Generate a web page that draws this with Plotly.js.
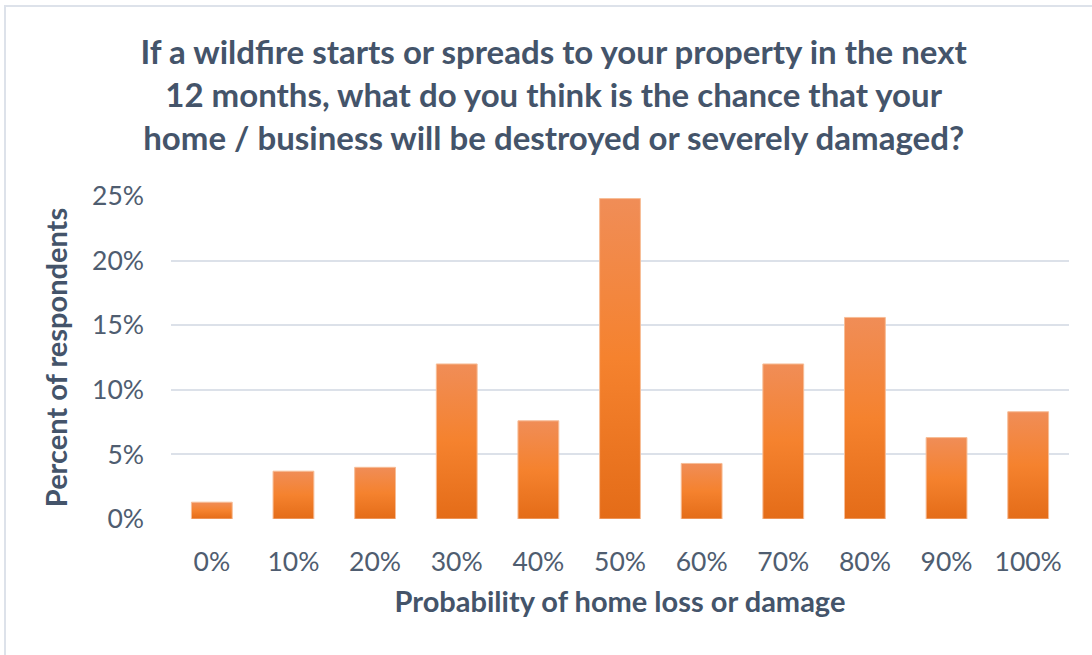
<!DOCTYPE html>
<html>
<head>
<meta charset="utf-8">
<script src="https://cdn.plot.ly/plotly-3.0.1.min.js"></script>
<style>
  html, body { margin: 0; padding: 0; background: #ffffff; }
  #wrap { position: relative; width: 1092px; height: 655px; overflow: hidden; }
  #chart { width: 1092px; height: 655px; }
  #frame { position: absolute; left: 4px; top: 5px; width: 1200px; height: 800px;
           border-left: 2px solid #DDE2EA; border-top: 2px solid #DDE2EA; pointer-events: none; }
</style>
</head>
<body>
<div id="wrap">
  <div id="chart"></div>
  <div id="frame"></div>
</div>
<script>
const categories = ["0%", "10%", "20%", "30%", "40%", "50%", "60%", "70%", "80%", "90%", "100%"];
const percentRespondents = [1.3, 3.7, 4.0, 12.0, 7.6, 24.8, 4.3, 12.0, 15.6, 6.3, 8.3];
const yTickValues = [0, 5, 10, 15, 20, 25];
const yTickLabels = ["0%", "5%", "10%", "15%", "20%", "25%"];

const titleText = "If a wildfire starts or spreads to your property in the next<br>12 months, what do you think is the chance that your<br>home / business will be destroyed or severely damaged?";
const xTitle = "Probability of home loss or damage";
const yTitle = "Percent of respondents";

const FONT = "Lato, 'Open Sans', sans-serif";
const TITLE_COLOR = "#44546A";
const TICK_COLOR = "#4F5D70";

const trace = {
  type: "bar",
  x: categories,
  y: percentRespondents,
  marker: { color: "#F27E2E", line: { color: "#F7BD96", width: 1 } },
  hoverinfo: "x+y"
};

const layout = {
  width: 1092,
  height: 655,
  paper_bgcolor: "#ffffff",
  plot_bgcolor: "#ffffff",
  margin: { l: 171, r: 23, t: 195.5, b: 135.5, pad: 0 },
  bargap: 0.5,
  showlegend: false,
  title: {
    text: titleText,
    font: { family: FONT, size: 33, color: TITLE_COLOR, weight: 700 },
    x: 0.507,
    xanchor: "center",
    xref: "container",
    y: 1 - 64 / 655,
    yref: "container",
    yanchor: "top"
  },
  xaxis: {
    type: "category",
    showgrid: false,
    zeroline: false,
    showline: false,
    ticks: "",
    ticklabelstandoff: 24,
    tickfont: { family: FONT, size: 26.5, color: TICK_COLOR },
    title: { text: xTitle, font: { family: FONT, size: 29, color: TITLE_COLOR, weight: 700 }, standoff: 16 },
    automargin: false
  },
  yaxis: {
    range: [0, 25],
    tickvals: yTickValues,
    ticktext: yTickLabels,
    showgrid: true,
    gridcolor: "#DCE1E9",
    gridwidth: 2,
    zeroline: false,
    showline: false,
    ticks: "",
    ticklabelstandoff: 26,
    tickfont: { family: FONT, size: 26.5, color: TICK_COLOR },
    title: { text: yTitle, font: { family: FONT, size: 29, color: TITLE_COLOR, weight: 700 }, standoff: 15 },
    automargin: false
  }
};

function applyGradient(gd) {
  const svg = gd.querySelector("svg.main-svg");
  if (!svg) return;
  const ns = "http://www.w3.org/2000/svg";
  let defs = svg.querySelector("defs");
  if (!defs) { defs = document.createElementNS(ns, "defs"); svg.insertBefore(defs, svg.firstChild); }
  const grad = document.createElementNS(ns, "linearGradient");
  grad.setAttribute("id", "barGrad");
  grad.setAttribute("x1", "0"); grad.setAttribute("y1", "0");
  grad.setAttribute("x2", "0"); grad.setAttribute("y2", "1");
  [["0%", "#F08D57"], ["50%", "#F5822E"], ["100%", "#E46C18"]].forEach(([o, c]) => {
    const s = document.createElementNS(ns, "stop");
    s.setAttribute("offset", o); s.setAttribute("stop-color", c);
    grad.appendChild(s);
  });
  defs.appendChild(grad);
  gd.querySelectorAll(".bars .point path").forEach(p => { p.style.fill = "url(#barGrad)"; });
}

Plotly.newPlot("chart", [trace], layout, { displayModeBar: false, staticPlot: true })
  .then(applyGradient);
</script>
</body>
</html>
